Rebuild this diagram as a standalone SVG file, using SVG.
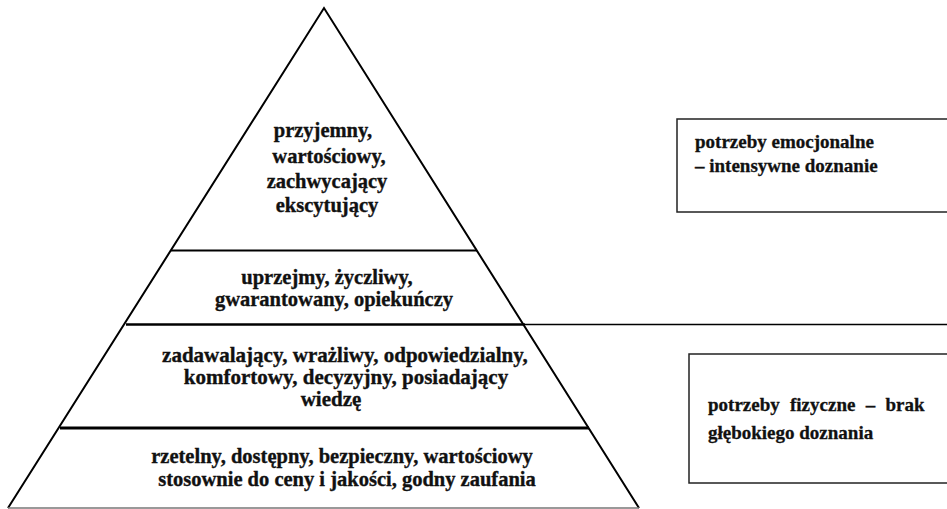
<svg xmlns="http://www.w3.org/2000/svg" width="947" height="509" viewBox="0 0 947 509">
<style>
.t{font-family:"Liberation Serif","Times New Roman",serif;font-weight:bold;font-size:20.5px;fill:#111;stroke:#111;stroke-width:0.35;text-anchor:middle}
.b{font-family:"Liberation Serif","Times New Roman",serif;font-weight:bold;font-size:19px;fill:#111;stroke:#111;stroke-width:0.3}
.edge{stroke:#000;fill:none;stroke-linecap:butt}
.box{fill:#fff;stroke:#222;stroke-width:1.5}
</style>
<rect width="947" height="509" fill="#fff"/>
<g id="connectors">
<line class="edge" x1="126" y1="324.5" x2="525" y2="324.5" stroke-width="2.4"/>
<line class="edge" x1="525" y1="324.5" x2="947" y2="324.5" stroke-width="1.5"/>
</g>
<g id="pyramid">
<path class="edge" d="M 8 508 L 324 8 L 639 508" stroke-width="2"/>
<line x1="8" y1="508" x2="639" y2="508" stroke="#777" stroke-width="1.6"/>
<line class="edge" x1="171" y1="250.5" x2="477" y2="250.5" stroke-width="2"/>
<line class="edge" x1="60" y1="428" x2="589" y2="428" stroke-width="3"/>
</g>
<g id="level4">
<text class="t" x="323" y="137">przyjemny,</text>
<text class="t" x="329" y="163">wartościowy,</text>
<text class="t" x="327" y="188">zachwycający</text>
<text class="t" x="327" y="212">ekscytujący</text>
</g>
<g id="level3">
<text class="t" x="327" y="284">uprzejmy, życzliwy,</text>
<text class="t" x="334" y="306">gwarantowany, opiekuńczy</text>
</g>
<g id="level2">
<text class="t" x="345" y="362" style="font-size:21px">zadawalający, wrażliwy, odpowiedzialny,</text>
<text class="t" x="346" y="384" style="font-size:21px">komfortowy, decyzyjny, posiadający</text>
<text class="t" x="331" y="406" style="font-size:21px">wiedzę</text>
</g>
<g id="level1">
<text class="t" x="342" y="463">rzetelny, dostępny, bezpieczny, wartościowy</text>
<text class="t" x="347" y="486">stosownie do ceny i jakości, godny zaufania</text>
</g>
<g id="box-emotional">
<rect class="box" x="677" y="119" width="280" height="93"/>
<text class="b" x="695" y="148">potrzeby emocjonalne</text>
<text class="b" x="695" y="172">– intensywne doznanie</text>
</g>
<g id="box-physical">
<rect class="box" x="689" y="354" width="270" height="129"/>
<text class="b" x="708" y="411" word-spacing="5.5">potrzeby fizyczne – brak</text>
<text class="b" x="708" y="439">głębokiego doznania</text>
</g>
</svg>
